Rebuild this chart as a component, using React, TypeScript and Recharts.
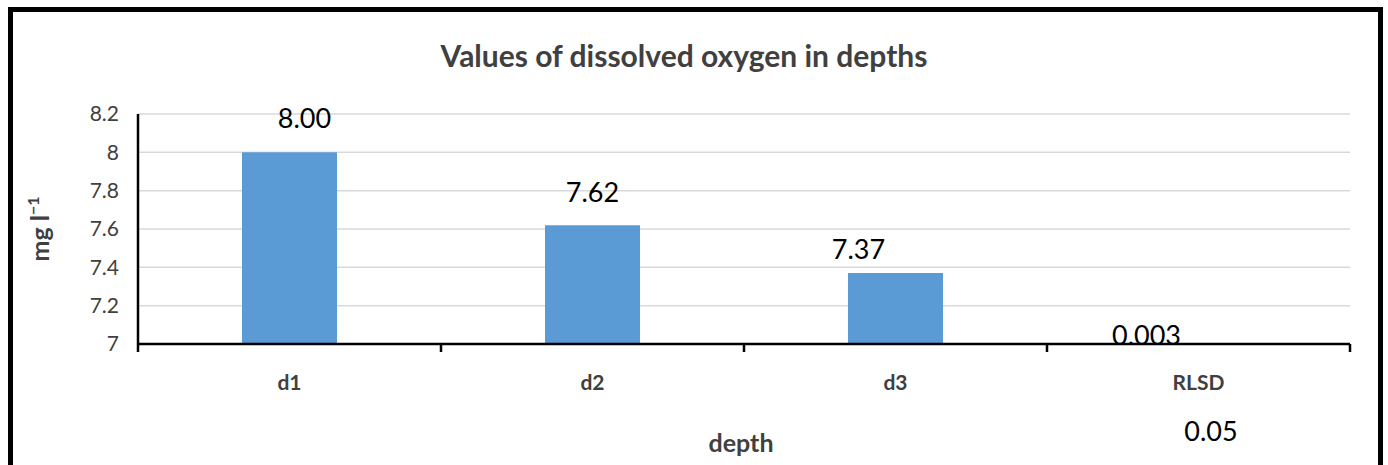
import { Bar, BarChart, CartesianGrid, LabelList, XAxis, YAxis } from "recharts";

const categories = ["d1", "d2", "d3", "RLSD"];
const oxygen = [8.0, 7.62, 7.37, 0.003];
const yTicks = [7, 7.2, 7.4, 7.6, 7.8, 8, 8.2];
const rlsdLevel = "0.05";

// Excel had the data labels dragged around a bit; keep those nudges separate from the values
const labelNudge = [
  { dx: 15, dy: -34 },
  { dx: 0, dy: -33 },
  { dx: -37, dy: -24 },
  { dx: -52, dy: -9 },
];

const FONT = "Lato, 'Open Sans', sans-serif";
const TEXT = "#404040";
const BAR = "#5b9bd5";

const data = categories.map((name, i) => ({ name, value: oxygen[i] }));

const fmt = (v: number) => (v >= 1 ? v.toFixed(2) : String(v));

function ValueLabel(props: any) {
  const { x, y, width, height, value, index } = props;
  // bars below the axis minimum come back with a negative height, so use the smaller edge
  const top = Math.min(y, y + height);
  const n = labelNudge[index] ?? { dx: 0, dy: -20 };
  return (
    <text
      x={x + width / 2 + n.dx}
      y={top + n.dy}
      dy="0.36em"
      textAnchor="middle"
      fontSize={27}
      fontFamily={FONT}
      fill="#000"
    >
      {fmt(value)}
    </text>
  );
}

function CategoryTick(props: any) {
  const { x, y, payload, index, visibleTicksCount } = props;
  const half = payload?.offset ?? 151.5;
  const last = index === (visibleTicksCount ?? categories.length) - 1;
  return (
    <g>
      <line x1={x - half} x2={x - half} y1={y} y2={y + 8} stroke="#000" strokeWidth={2.5} />
      {last && <line x1={x + half} x2={x + half} y1={y} y2={y + 8} stroke="#000" strokeWidth={2.5} />}
      <text x={x} y={y + 46} textAnchor="middle" fontSize={21} fontWeight="bold" fontFamily={FONT} fill={TEXT}>
        {payload.value}
      </text>
    </g>
  );
}

export default function App() {
  return (
    <div
      style={{
        position: "absolute",
        left: 0,
        top: 0,
        width: 1388,
        height: 465,
        overflow: "hidden",
        background: "#fff",
        fontFamily: FONT,
      }}
    >
      <BarChart
        width={1388}
        height={465}
        data={data}
        margin={{ top: 114, right: 38, left: 0, bottom: 11 }}
        style={{ position: "absolute", left: 0, top: 0 }}
      >
        <CartesianGrid vertical={false} stroke="#d9d9d9" strokeWidth={1.5} />
        <XAxis
          dataKey="name"
          height={110}
          tickLine={false}
          tickSize={0}
          tickMargin={0}
          axisLine={{ stroke: "#000", strokeWidth: 2.5 }}
          tick={<CategoryTick />}
          interval={0}
          label={{
            value: "depth",
            content: (p: any) => {
              const vb = p.viewBox;
              return (
                <text
                  x={vb.x + vb.width / 2 - 3}
                  y={vb.y + 108}
                  textAnchor="middle"
                  fontSize={25}
                  fontWeight="bold"
                  fontFamily={FONT}
                  fill={TEXT}
                >
                  depth
                </text>
              );
            },
          }}
        />
        <YAxis
          width={138}
          domain={[7, 8.2]}
          ticks={yTicks}
          allowDataOverflow
          tickLine={false}
          tickSize={0}
          tickMargin={19}
          axisLine={{ stroke: "#000", strokeWidth: 2.5 }}
          tick={{ fontSize: 21, fill: TEXT, fontFamily: FONT }}
          label={{
            value: "mg l-1",
            content: (p: any) => {
              const vb = p.viewBox;
              const cx = 49;
              const cy = vb.y + vb.height / 2;
              return (
                <text
                  transform={`rotate(-90 ${cx} ${cy})`}
                  x={cx}
                  y={cy}
                  textAnchor="middle"
                  fontSize={25}
                  fontWeight="bold"
                  fontFamily={FONT}
                  fill={TEXT}
                >
                  mg l<tspan fontSize={16} dy={-10}>−1</tspan>
                </text>
              );
            },
          }}
        />
        <Bar dataKey="value" fill={BAR} barSize={95} isAnimationActive={false}>
          <LabelList dataKey="value" content={<ValueLabel />} />
        </Bar>
      </BarChart>

      <svg width={1388} height={465} style={{ position: "absolute", left: 0, top: 0, pointerEvents: "none" }}>
        <text x={684} y={67} textAnchor="middle" fontSize={30} fontWeight="bold" fontFamily={FONT} fill={TEXT}>
          Values of dissolved oxygen in depths
        </text>
        <text x={1211} y={441} textAnchor="middle" fontSize={27} fontFamily={FONT} fill="#000">
          {rlsdLevel}
        </text>
      </svg>

      <div
        style={{
          position: "absolute",
          left: 8,
          top: 7,
          width: 1365,
          height: 470,
          border: "5px solid #000",
          borderBottom: "none",
        }}
      />
    </div>
  );
}
